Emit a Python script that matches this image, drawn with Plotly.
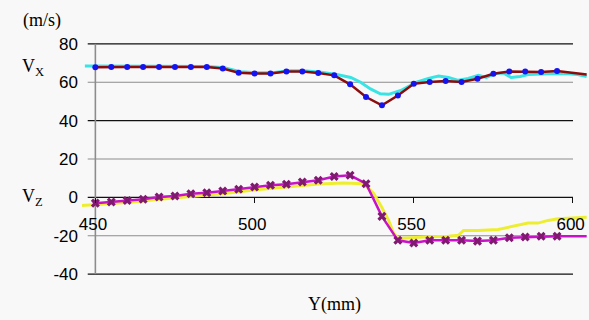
import plotly.graph_objects as go

# ---------------- data ----------------
# Vx (dense line, cyan)
vx_line_x = [446.7, 450, 460.8, 470.2, 480.5, 485.2, 490.5, 495.5, 500.5, 505.8, 510.5, 515.5,
             520.8, 525.8, 530.2, 533.3, 536.4, 539.5, 542.1, 545.9, 550.9, 554.6, 557.8, 560.9,
             564.0, 567.1, 570.3, 572.8, 575.6, 578.1, 580.6, 583.4, 585.9, 592.2, 598.4, 601.5, 604.3]
vx_line_y = [68.5, 68.5, 68.5, 68.3, 68.3, 68.2, 67.5, 65.5, 65.0, 65.0, 66.0, 66.0,
             65.2, 64.0, 62.5, 60.0, 56.5, 54.0, 53.7, 55.7, 60.0, 62.0, 63.2, 62.5,
             61.0, 62.0, 63.6, 62.5, 64.6, 64.8, 62.5, 63.0, 64.0, 64.4, 64.4, 64.0, 63.0]

# Vx (marked series, dark red line with blue dots)
vx_pts_x = [450, 455, 460, 465, 470, 475, 480, 485, 490, 495, 500, 505, 510, 515, 520, 525,
            530, 535, 540, 545, 550, 555, 560, 565, 570, 575, 580, 585, 590, 595, 604.3]
vx_pts_y = [67.8, 68.0, 68.0, 68.0, 68.0, 68.0, 68.0, 68.0, 67.2, 65.0, 64.6, 64.6, 65.6, 65.6,
            64.8, 63.6, 58.9, 52.3, 48.0, 53.1, 59.2, 60.1, 60.6, 60.1, 61.8, 64.4, 65.6, 65.6,
            65.3, 65.8, 64.0]

# Vz (dense line, yellow)
vz_line_x = [445.8, 450.2, 460.8, 470.2, 480.5, 490.5, 500.5, 510.8, 520.2, 528.0, 534.3, 537.4,
             539.9, 542.1, 543.7, 545.2, 548.3, 554.6, 560.9, 564.0, 565.6, 570.3, 576.5, 582.8,
             585.9, 589.0, 592.2, 595.3, 600.0, 604.3]
vz_line_y = [-4.2, -3.8, -2.6, -1.0, 0.5, 2.0, 4.0, 5.5, 7.0, 7.5, 7.1, 2.0,
             -5.0, -12.0, -18.8, -21.4, -21.0, -20.5, -20.3, -19.8, -17.2, -17.2, -16.7, -14.6,
             -13.4, -13.4, -12.0, -11.1, -10.8, -10.3]

# Vz (marked series, magenta line with purple crosses)
vz_pts_x = [450, 455, 460, 465, 470, 475, 480, 485, 490, 495, 500, 505, 510, 515, 520, 525,
            530, 535, 540, 545, 550, 555, 560, 565, 570, 575, 580, 585, 590, 595, 604.3]
vz_pts_y = [-3.0, -2.4, -1.6, -1.0, 0.2, 0.7, 1.9, 2.4, 3.3, 4.2, 5.4, 6.3, 6.8, 8.0, 8.9, 10.9,
            11.5, 7.1, -9.9, -22.4, -23.8, -22.4, -22.4, -22.4, -22.8, -22.4, -21.0, -20.7,
            -20.3, -20.3, -20.3]

x_ticks = [450, 500, 550, 600]
x_tick_text = ["450", "500", "550", "600"]
y_ticks = [-40, -20, 0, 20, 40, 60, 80]
y_tick_text = ["-40", "-20", "0", "20", "40", "60", "80"]

# ---------------- figure ----------------
SANS = "Liberation Sans, Arial, sans-serif"
SERIF = "Liberation Serif, Times New Roman, serif"

W, H = 589, 320
ML, MR, MT, MB = 82, 0, 41, 43
PH = H - MT - MB

fig = go.Figure()

fig.add_trace(go.Scatter(x=vx_line_x, y=vx_line_y, mode="lines",
                         line=dict(color="#38e4e4", width=3), hoverinfo="skip"))
fig.add_trace(go.Scatter(x=vx_pts_x, y=vx_pts_y, mode="lines",
                         line=dict(color="#8a0c0c", width=2.5), hoverinfo="skip"))
fig.add_trace(go.Scatter(x=vx_pts_x[:-1], y=vx_pts_y[:-1], mode="markers",
                         marker=dict(color="#1414f0", size=6, symbol="circle"), hoverinfo="skip"))

fig.add_trace(go.Scatter(x=vz_line_x, y=vz_line_y, mode="lines",
                         line=dict(color="#eeee30", width=3), hoverinfo="skip"))
fig.add_trace(go.Scatter(x=vz_pts_x, y=vz_pts_y, mode="lines",
                         line=dict(color="#c812c8", width=2.5), hoverinfo="skip"))
fig.add_trace(go.Scatter(x=vz_pts_x[:-1], y=vz_pts_y[:-1], mode="markers",
                         marker=dict(color="#801a70", size=8, symbol="x"), hoverinfo="skip"))

# gridlines (alternating dark / gray) and the vertical axis line
shapes = []
for v in y_ticks:
    col = "#111111" if v in (-40, 0, 40, 80) else "#8c8c8c"
    shapes.append(dict(type="line", xref="x", yref="y", x0=447.6, x1=600, y0=v, y1=v,
                       line=dict(color=col, width=1.2), layer="below"))
shapes.append(dict(type="line", xref="x", yref="y", x0=450, x1=450, y0=-40, y1=80,
                   line=dict(color="#8c8c8c", width=1.6), layer="below"))


def px2paper(px, py):
    return (px - ML) / (W - ML - MR), 1 - (py - MT) / PH


ann = []
for txt, (px, py), sz in [("(m/s)", (42, 20), 18), ("V<sub>X</sub>", (33, 67), 18),
                          ("V<sub>Z</sub>", (32, 197), 18), ("Y(mm)", (335, 304), 18)]:
    x, y = px2paper(px, py)
    ann.append(dict(text=txt, xref="paper", yref="paper", x=x, y=y, showarrow=False,
                    xanchor="center", yanchor="middle",
                    font=dict(family=SERIF, size=sz, color="#000000")))

yr = [-41.5, 81.5]
fig.update_layout(
    width=W, height=H,
    margin=dict(l=ML, r=MR, t=MT, b=MB),
    paper_bgcolor="#f8f8f8", plot_bgcolor="#f8f8f8",
    showlegend=False,
    shapes=shapes,
    annotations=ann,
    xaxis=dict(range=[445.8, 604.4], tickvals=x_ticks,
               ticktext=[t + "\u00a0" for t in x_tick_text],
               showgrid=False, zeroline=False, showline=False,
               ticks="outside", ticklen=5, tickcolor="#111111",
               anchor="free", position=(0 - yr[0]) / (yr[1] - yr[0]),
               ticklabelstandoff=6, ticklabeloverflow="allow",
               tickfont=dict(family=SANS, size=17, color="#000000")),
    yaxis=dict(range=yr, tickvals=y_ticks, ticktext=y_tick_text,
               showgrid=False, zeroline=False, showline=False, ticks="",
               ticklabelstandoff=3,
               tickfont=dict(family=SANS, size=17, color="#000000")),
)

fig.write_html("out.html")
